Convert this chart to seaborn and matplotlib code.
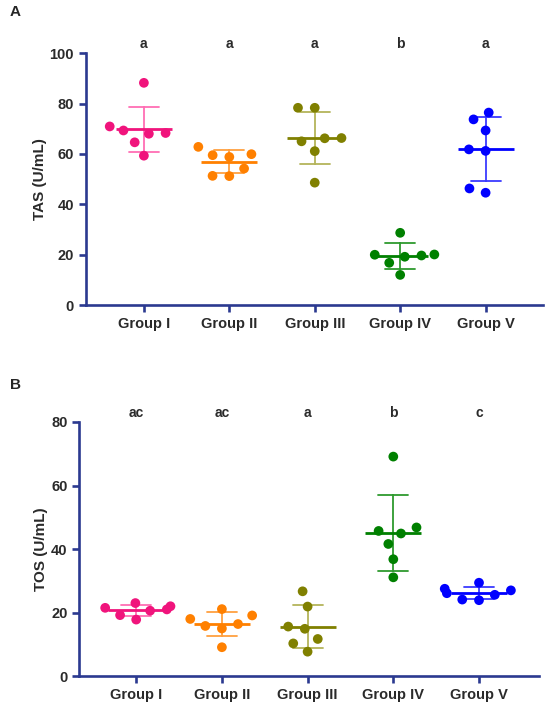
import pandas as pd
import seaborn as sns
import matplotlib.pyplot as plt
from matplotlib.collections import PathCollection

groups = ['Group I', 'Group II', 'Group III', 'Group IV', 'Group V']

# TAS values (U/mL), 7 per group
tas_g1 = [88.2, 70.9, 68.0, 69.3, 68.3, 64.6, 59.3]
tas_g2 = [62.8, 59.9, 58.8, 59.5, 54.2, 51.2, 51.3]
tas_g3 = [78.3, 78.3, 66.2, 66.3, 65.0, 61.1, 48.6]
tas_g4 = [28.7, 19.7, 20.1, 19.2, 20.0, 16.8, 12.0]
tas_g5 = [76.4, 73.7, 69.3, 61.2, 61.8, 46.3, 44.6]
tas_letters = ['a', 'a', 'a', 'b', 'a']

# TOS values (U/mL)
tos_g1 = [22.0, 21.0, 20.6, 23.0, 19.2, 17.8, 21.5]
tos_g2 = [21.1, 19.1, 16.4, 18.0, 15.8, 15.0, 9.1]
tos_g3 = [26.7, 21.9, 14.9, 15.6, 11.7, 10.3, 7.7]
tos_g4 = [69.1, 45.7, 46.8, 44.9, 41.6, 36.8, 31.1]
tos_g5 = [27.0, 26.1, 27.5, 29.4, 23.9, 24.1, 25.6]
tos_letters = ['ac', 'ac', 'a', 'b', 'c']

main_colors = ['#f0147c', '#ff8000', '#808000', '#008000', '#0000ff']
light_colors = ['#ff6eb4', '#ffa040', '#b4b45a', '#2e9a2e', '#3a3aff']
axis_color = '#2b3990'
text_color = '#2a2a2a'


def make_df(lists):
    rows = []
    for g, vals in zip(groups, lists):
        for v in vals:
            rows.append({'group': g, 'value': v})
    return pd.DataFrame(rows)


def draw_panel(ax, df, ylabel, ymax, letters, xlim):
    # 标准差误差线
    sns.pointplot(data=df, x='group', y='value', hue='group', order=groups,
                  hue_order=groups, palette=light_colors, errorbar='sd',
                  capsize=0.35, linestyle='none', marker='', legend=False,
                  err_kws={'linewidth': 1.3}, ax=ax)
    # 均值横线
    sns.pointplot(data=df, x='group', y='value', hue='group', order=groups,
                  hue_order=groups, palette=main_colors, errorbar=None,
                  linestyle='none', marker='_', markersize=41, markeredgewidth=2,
                  legend=False, ax=ax)
    # 散点 蜂群排布（先用大点排布，画完再缩小）
    sns.swarmplot(data=df, x='group', y='value', hue='group', order=groups,
                  hue_order=groups, palette=main_colors, size=11.5, linewidth=0,
                  legend=False, ax=ax, zorder=3)

    ax.set_ylim(0, ymax)
    ax.set_xlim(*xlim)
    ax.set_yticks(range(0, ymax + 1, 20))
    ax.set_xlabel('')
    ax.set_ylabel(ylabel, fontsize=11, fontweight='bold', color=text_color, labelpad=2)
    for s in ['top', 'right']:
        ax.spines[s].set_visible(False)
    for s in ['left', 'bottom']:
        ax.spines[s].set_color(axis_color)
        ax.spines[s].set_linewidth(1.9)
    ax.tick_params(axis='both', color=axis_color, width=1.9, length=5,
                   labelcolor=text_color, labelsize=10.5)
    for lab in ax.get_xticklabels() + ax.get_yticklabels():
        lab.set_fontweight('bold')
    # 显著性字母
    for i, t in enumerate(letters):
        ax.text(i, ymax * 1.037, t, ha='center', va='center', fontsize=10,
                fontweight='bold', color=text_color, clip_on=False)


def shrink_swarm_points(fig, axes, size):
    # 先渲染一次得到蜂群位置，再固定位置缩小点
    fig.canvas.draw()
    for ax in axes:
        for c in ax.collections:
            if isinstance(c, PathCollection) and 'draw' in c.__dict__:
                del c.draw
                c.set_sizes([size ** 2])


sns.set_style('ticks')
plt.rcParams['font.family'] = ['Liberation Sans', 'DejaVu Sans']

fig = plt.figure(figsize=(5.5, 7.08), dpi=100)
ax_a = fig.add_axes([0.156, 0.569, 0.831, 0.356])
ax_b = fig.add_axes([0.144, 0.045, 0.836, 0.359])

draw_panel(ax_a, make_df([tas_g1, tas_g2, tas_g3, tas_g4, tas_g5]),
           'TAS (U/mL)', 100, tas_letters, (-0.68, 4.67))
draw_panel(ax_b, make_df([tos_g1, tos_g2, tos_g3, tos_g4, tos_g5]),
           'TOS (U/mL)', 80, tos_letters, (-0.665, 4.70))

fig.text(0.018, 0.983, 'A', fontsize=11, fontweight='bold', va='center')
fig.text(0.018, 0.456, 'B', fontsize=11, fontweight='bold', va='center')

shrink_swarm_points(fig, [ax_a, ax_b], 7.0)

plt.savefig('out.png', dpi=100)
